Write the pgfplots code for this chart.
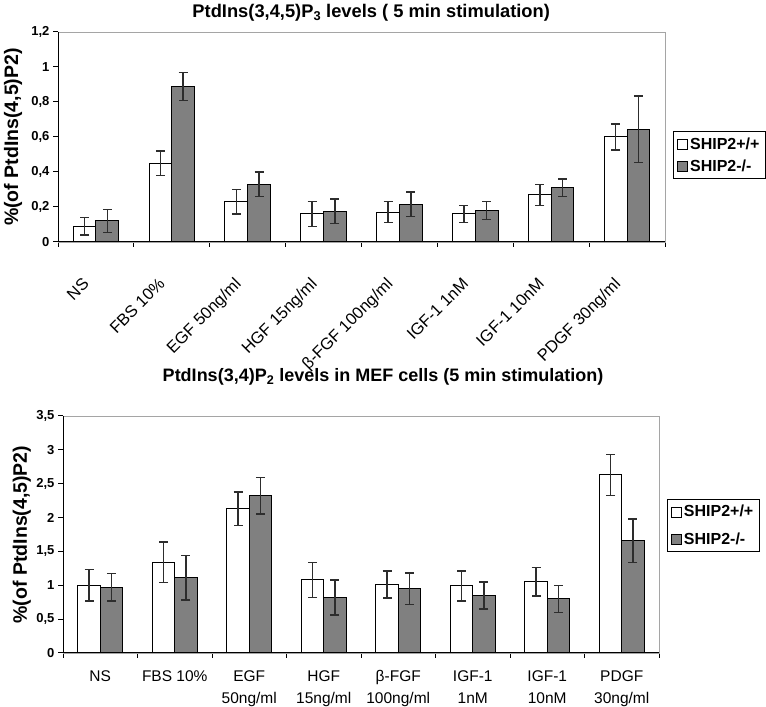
\documentclass[border=0pt]{standalone}
\usepackage{fontspec}
\setmainfont{Liberation Sans}
\usepackage{pgfplots}
\pgfplotsset{compat=1.18}

\definecolor{barg}{RGB}{128,128,128}
\definecolor{errc}{RGB}{45,45,45}
\definecolor{boxc}{RGB}{165,165,165}

\pgfplotsset{
  mystyle/.style={
    scale only axis, anchor=south west,
    ybar, bar width=0.3,
    xmin=-0.5, xmax=7.5, ymin=0,
    axis line style={draw=boxc, line width=0.9pt},
    xtick pos=bottom, ytick pos=left,
    tick align=outside,
    major tick length=5pt,
    tick style={black, line width=1pt},
    xtick={-0.5,0.5,...,7.5},
    xticklabels={},
    extra x ticks={0,1,...,7},
    extra x tick style={major tick length=0pt},
    yticklabel style={font=\bfseries\fontsize{13}{13}\selectfont},
    /pgf/number format/use comma,
    /pgf/number format/fixed,
    /pgf/number format/assume math mode=true,
    ylabel={\%(of PtdIns(4,5)P2)},
    ylabel style={font=\bfseries\fontsize{19.5}{19.5}\selectfont, anchor=center},
    legend style={draw=black, line width=0.8pt, font=\bfseries\fontsize{16}{16}\selectfont,
      anchor=west, inner sep=4pt, row sep=5pt},
    legend cell align=left,
  },
  wbar/.style={fill=white, draw=black, line width=1pt, bar shift=-0.15,
    legend image code/.code={\draw[fill=white,draw=black,line width=0.8pt] (0pt,-5pt) rectangle (10pt,5pt);},
    error bars/.cd, y dir=both, y explicit,
    error bar style={errc, line width=1.4pt},
    error mark options={rotate=90, errc, line width=1.4pt, mark size=4.5pt}},
  gbar/.style={fill=barg, draw=black, line width=1pt, bar shift=0.15,
    legend image code/.code={\draw[fill=barg,draw=black,line width=0.8pt] (0pt,-5pt) rectangle (10pt,5pt);},
    error bars/.cd, y dir=both, y explicit,
    error bar style={errc, line width=1.4pt},
    error mark options={rotate=90, errc, line width=1.4pt, mark size=4.5pt}},
}

\begin{document}
\begin{tikzpicture}
\useasboundingbox (0,0) rectangle (766pt,707pt);

% ---------- top panel ----------
\begin{axis}[mystyle,
  at={(58pt,465pt)}, width=607pt, height=210pt,
  ymax=1.2, ytick={0,0.2,...,1.2},
  /pgf/number format/precision=1,
  extra x tick labels={NS,FBS 10\%,EGF 50ng/ml,HGF 15ng/ml,β-FGF 100ng/ml,IGF-1 1nM,IGF-1 10nM,PDGF 30ng/ml},
  xticklabel style={rotate=45, anchor=north east, inner sep=0pt, xshift=-34.5pt, yshift=-14.5pt,
    font=\fontsize{16.5}{16.5}\selectfont},
  title={PtdIns(3,4,5)P\textsubscript{3} levels ( 5 min stimulation)},
  title style={at={(0.516,1)}, anchor=base, yshift=8pt, font=\bfseries\fontsize{18.3}{18.3}\selectfont},
  ylabel style={at={(axis description cs:-0.074,0.5)}},
  legend style={at={(1.013,0.414)}},
]
\addplot[wbar] coordinates {
 (0,0.09) +- (0,0.05)
 (1,0.45) +- (0,0.07)
 (2,0.23) +- (0,0.07)
 (3,0.16) +- (0,0.07)
 (4,0.17) +- (0,0.06)
 (5,0.16) +- (0,0.05)
 (6,0.27) +- (0,0.06)
 (7,0.60) +- (0,0.075)
};
\addplot[gbar] coordinates {
 (0,0.12) +- (0,0.065)
 (1,0.89) +- (0,0.08)
 (2,0.33) +- (0,0.07)
 (3,0.175) +- (0,0.07)
 (4,0.215) +- (0,0.07)
 (5,0.18) +- (0,0.05)
 (6,0.31) +- (0,0.05)
 (7,0.645) +- (0,0.19)
};
\legend{SHIP2+/+,SHIP2-/-}
\draw[black, line width=1.3pt] (rel axis cs:0,1) -- (rel axis cs:0,0) -- (rel axis cs:1,0);
\end{axis}

% ---------- bottom panel ----------
\begin{axis}[mystyle,
  at={(63pt,54pt)}, width=596pt, height=237pt,
  ymax=3.5, ytick={0,0.5,...,3.5},
  /pgf/number format/precision=1,
  extra x tick labels={NS,FBS 10\%,{EGF\\50ng/ml},{HGF\\15ng/ml},{β-FGF\\100ng/ml},{IGF-1\\1nM},{IGF-1\\10nM},{PDGF\\30ng/ml}},
  xticklabel style={anchor=north, align=center, inner sep=0pt, yshift=-17pt,
    font=\fontsize{15.5}{22}\selectfont},
  title={PtdIns(3,4)P\textsubscript{2} levels in MEF cells (5 min stimulation)},
  title style={at={(0.537,1)}, anchor=base, yshift=28pt, font=\bfseries\fontsize{18}{18}\selectfont},
  ylabel style={at={(axis description cs:-0.069,0.5)}},
  legend style={at={(1.013,0.538)}, row sep=10pt},
]
\addplot[wbar] coordinates {
 (0,1.00) +- (0,0.23)
 (1,1.34) +- (0,0.30)
 (2,2.13) +- (0,0.25)
 (3,1.08) +- (0,0.26)
 (4,1.01) +- (0,0.20)
 (5,0.99) +- (0,0.22)
 (6,1.05) +- (0,0.21)
 (7,2.63) +- (0,0.30)
};
\addplot[gbar] coordinates {
 (0,0.97) +- (0,0.20)
 (1,1.11) +- (0,0.33)
 (2,2.32) +- (0,0.27)
 (3,0.82) +- (0,0.26)
 (4,0.95) +- (0,0.23)
 (5,0.85) +- (0,0.20)
 (6,0.80) +- (0,0.20)
 (7,1.66) +- (0,0.32)
};
\legend{SHIP2+/+,SHIP2-/-}
\draw[black, line width=1.3pt] (rel axis cs:0,1) -- (rel axis cs:0,0) -- (rel axis cs:1,0);
\end{axis}
\end{tikzpicture}
\end{document}
